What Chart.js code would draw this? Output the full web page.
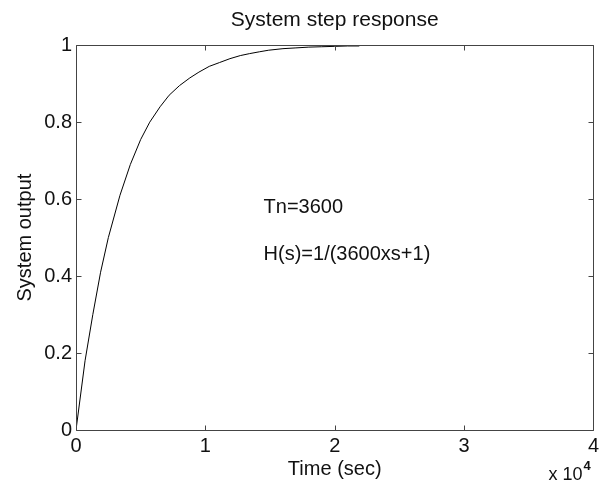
<!DOCTYPE html>
<html>
<head>
<meta charset="utf-8">
<title>System step response</title>
<script src="https://cdn.jsdelivr.net/npm/chart.js@4"></script>
<style>
    html, body { margin: 0; padding: 0; background: #fff; }
    canvas { display: block; }
</style>
</head>
<body>
<canvas id="stepChart" width="603" height="484"></canvas>
<script>
// values
var timeSec = [0, 700, 1300, 1900, 2500, 3400, 4200, 5000, 5700, 6500, 7200, 8000, 8800, 9500,
    10300, 11100, 11900, 12700, 13400, 14200, 14900, 16000, 17000, 18000, 19000, 20000, 21000, 21900];
var outputValues = [0, 0.18, 0.30, 0.41, 0.50, 0.61, 0.69, 0.755, 0.80, 0.84, 0.87, 0.895, 0.915, 0.93,
    0.945, 0.955, 0.965, 0.973, 0.978, 0.983, 0.987, 0.991, 0.993, 0.995, 0.996, 0.997, 0.998, 0.998];
var xTicks = [0, 10000, 20000, 30000, 40000];
var yTicks = [0, 0.2, 0.4, 0.6, 0.8, 1];
var notes = [
    { text: 'Tn=3600', x: 14500, y: 0.578 },
    { text: 'H(s)=1/(3600xs+1)', x: 14500, y: 0.455 }
];

(function () {
    var canvas = document.getElementById('stepChart');
    if (!canvas || typeof Chart === 'undefined') return;

    var FONT = '"Liberation Sans", Arial, Helvetica, sans-serif';
    var TEXT = '#111';
    var AXIS = '#444';
    var TICK = 5;

    Chart.defaults.font.family = FONT;
    Chart.defaults.color = TEXT;

    var points = timeSec.map(function (t, i) { return { x: t, y: outputValues[i] }; });

    var boxPlugin = {
        id: 'matlabBox',
        afterDraw: function (chart) {
            var ctx = chart.ctx;
            var a = chart.chartArea;
            var xs = chart.scales.x;
            var ys = chart.scales.y;
            ctx.save();
            ctx.strokeStyle = AXIS;
            ctx.lineWidth = 1;
            ctx.beginPath();
            var l = Math.round(a.left) + 0.5, r = Math.round(a.right) + 0.5;
            var t = Math.round(a.top) + 0.5, b = Math.round(a.bottom) + 0.5;
            ctx.rect(l, t, r - l, b - t);
            xTicks.forEach(function (v) {
                var px = Math.round(xs.getPixelForValue(v)) + 0.5;
                ctx.moveTo(px, b); ctx.lineTo(px, b - TICK);
                ctx.moveTo(px, t); ctx.lineTo(px, t + TICK);
            });
            yTicks.forEach(function (v) {
                var py = Math.round(ys.getPixelForValue(v)) + 0.5;
                ctx.moveTo(l, py); ctx.lineTo(l + TICK, py);
                ctx.moveTo(r, py); ctx.lineTo(r - TICK, py);
            });
            ctx.stroke();

            // text notes inside the axes
            ctx.fillStyle = TEXT;
            ctx.font = '20px ' + FONT;
            ctx.textAlign = 'left';
            ctx.textBaseline = 'middle';
            notes.forEach(function (n) {
                ctx.fillText(n.text, xs.getPixelForValue(n.x), ys.getPixelForValue(n.y));
            });

            // exponent label under the x axis
            ctx.textBaseline = 'alphabetic';
            ctx.textAlign = 'right';
            ctx.font = '18px ' + FONT;
            ctx.fillText('x 10', a.right - 11, a.bottom + 50);
            ctx.textAlign = 'left';
            ctx.font = 'bold 13px ' + FONT;
            ctx.fillText('4', a.right - 10, a.bottom + 40);
            ctx.restore();
        }
    };

    new Chart(canvas, {
        type: 'scatter',
        data: {
            datasets: [{
                label: 'Step response',
                data: points,
                showLine: true,
                borderColor: '#000',
                borderWidth: 1,
                pointRadius: 0,
                tension: 0,
                fill: false
            }]
        },
        options: {
            responsive: false,
            animation: false,
            layout: { padding: { top: 0, right: 7, bottom: 0, left: 0 } },
            plugins: {
                legend: { display: false },
                tooltip: { enabled: false },
                title: {
                    display: true,
                    text: 'System step response',
                    fullSize: false,
                    color: TEXT,
                    font: { size: 21, weight: 'normal', lineHeight: 1.2 },
                    padding: { top: 8, bottom: 12 }
                }
            },
            scales: {
                x: {
                    type: 'linear',
                    min: 0,
                    max: 40000,
                    afterFit: function (scale) { scale.height = 54; },
                    afterBuildTicks: function (scale) {
                        scale.ticks = xTicks.map(function (v) { return { value: v }; });
                    },
                    ticks: {
                        padding: 4,
                        maxRotation: 0,
                        font: { size: 20 },
                        callback: function (v) { return String(v / 10000); }
                    },
                    grid: { display: false, drawTicks: false },
                    border: { display: false },
                    title: {
                        display: true,
                        text: 'Time (sec)',
                        font: { size: 20 },
                        padding: { top: 0, bottom: 3 }
                    }
                },
                y: {
                    type: 'linear',
                    min: 0,
                    max: 1,
                    afterFit: function (scale) { scale.width = 76; },
                    afterBuildTicks: function (scale) {
                        scale.ticks = yTicks.map(function (v) { return { value: v }; });
                    },
                    ticks: {
                        padding: 4,
                        font: { size: 20 },
                        callback: function (v) { return String(Math.round(v * 10) / 10); }
                    },
                    grid: { display: false, drawTicks: false },
                    border: { display: false },
                    title: {
                        display: true,
                        text: 'System output',
                        font: { size: 20 },
                        padding: { top: 13, bottom: 0 }
                    }
                }
            }
        },
        plugins: [boxPlugin]
    });
})();
</script>
</body>
</html>
